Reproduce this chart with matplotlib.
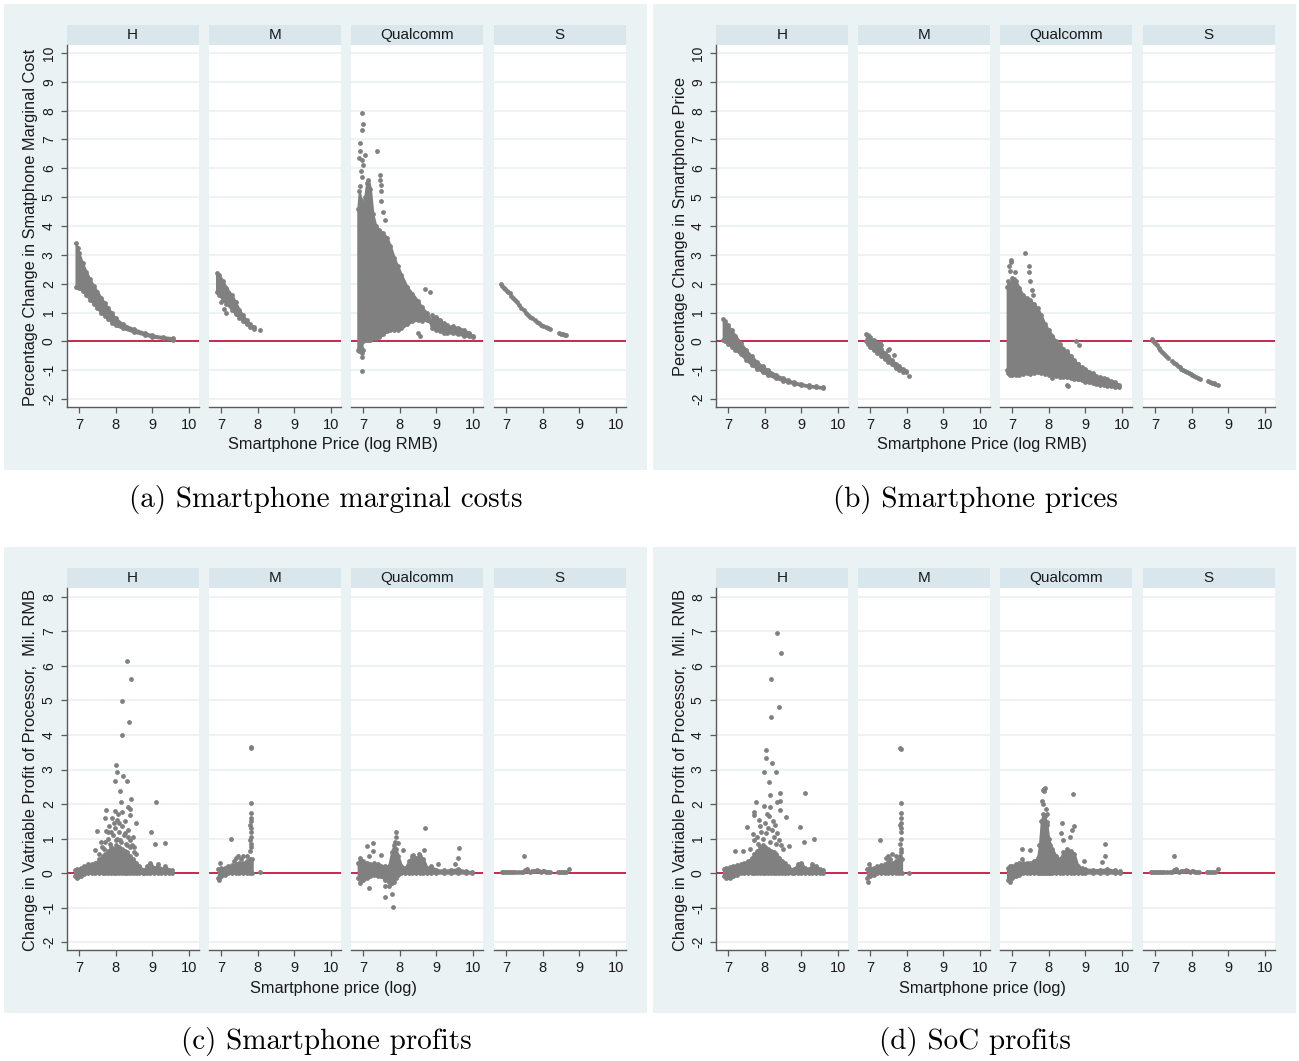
import matplotlib
matplotlib.use("Agg")
import matplotlib.pyplot as plt
from matplotlib.patches import Rectangle

# ======================= DATA =======================
facet_names = ["H", "M", "Qualcomm", "S"]
x_ticks = [7, 8, 9, 10]
x_tick_labels = ["7", "8", "9", "10"]
y_ticks_ab = [-2, -1, 0, 1, 2, 3, 4, 5, 6, 7, 8, 9, 10]
y_tick_labels_ab = ["-2", "-1", "0", "1", "2", "3", "4", "5", "6", "7", "8", "9", "10"]
y_ticks_cd = [-2, -1, 0, 1, 2, 3, 4, 5, 6, 7, 8]
y_tick_labels_cd = ["-2", "-1", "0", "1", "2", "3", "4", "5", "6", "7", "8"]

captions = ["(a) Smartphone marginal costs", "(b) Smartphone prices",
            "(c) Smartphone profits", "(d) SoC profits"]
y_titles = ["Percentage Change in Smatphone Marginal Cost",
            "Percentage Change in Smartphone Price",
            "Change in Vatriable Profit of Processor,  Mil. RMB",
            "Change in Vatriable Profit of Processor,  Mil. RMB"]
x_titles = ["Smartphone Price (log RMB)", "Smartphone Price (log RMB)",
            "Smartphone price (log)", "Smartphone price (log)"]

# ---- panel (a): % change in marginal cost ----
a_H_band_x = [6.92, 6.96, 7.0, 7.1, 7.2, 7.3, 7.4, 7.5, 7.6, 7.7, 7.8, 7.9, 8.0, 8.2, 8.5, 8.8, 9.0, 9.3, 9.56]
a_H_band_hi = [3.4, 3.25, 3.05, 2.7, 2.4, 2.15, 1.93, 1.72, 1.52, 1.33, 1.15, 0.97, 0.8, 0.6, 0.43, 0.3, 0.22, 0.16, 0.12]
a_H_band_lo = [1.9, 1.88, 1.85, 1.75, 1.6, 1.45, 1.3, 1.15, 1.0, 0.88, 0.77, 0.65, 0.55, 0.45, 0.32, 0.22, 0.15, 0.1, 0.06]

a_M_band_x = [6.88, 6.95, 7.05, 7.15, 7.3, 7.4, 7.5, 7.6, 7.7, 7.8, 7.9]
a_M_band_hi = [2.36, 2.3, 2.1, 1.85, 1.6, 1.35, 1.1, 0.9, 0.73, 0.6, 0.5]
a_M_band_lo = [1.7, 1.6, 1.45, 1.3, 1.1, 0.95, 0.82, 0.7, 0.6, 0.5, 0.43]
a_M_pts_x = [8.06, 7.0, 7.07, 7.14]
a_M_pts_y = [0.38, 1.36, 1.13, 0.98]

a_Q_band_x = [6.86, 6.9, 6.95, 7.0, 7.05, 7.1, 7.15, 7.2, 7.27, 7.35, 7.45, 7.55, 7.65, 7.75, 7.85, 7.95, 8.05, 8.2, 8.35, 8.5, 8.6, 8.75, 8.88]
a_Q_band_hi = [4.6, 5.2, 4.9, 4.7, 5.0, 5.5, 5.6, 5.3, 4.4, 4.0, 3.85, 3.75, 3.6, 3.3, 2.9, 2.6, 2.3, 1.9, 1.65, 1.4, 1.2, 0.98, 0.65]
a_Q_band_lo = [-0.3, -0.35, -0.2, 0.0, 0.05, 0.05, 0.05, 0.05, 0.1, 0.1, 0.15, 0.25, 0.35, 0.4, 0.4, 0.38, 0.45, 0.6, 0.7, 0.75, 0.72, 0.75, 0.55]
a_Q_tail_x = [8.88, 9.0, 9.1, 9.2, 9.3, 9.45, 9.6, 9.75, 9.9, 10.0]
a_Q_tail_hi = [0.9, 0.85, 0.75, 0.62, 0.55, 0.52, 0.48, 0.4, 0.3, 0.18]
a_Q_tail_lo = [0.45, 0.4, 0.35, 0.3, 0.3, 0.28, 0.25, 0.2, 0.17, 0.14]
a_Q_pts_x = [6.96, 7.01, 6.97, 6.91, 6.93, 6.97, 7.0, 6.95, 6.98, 7.37, 7.46, 7.46, 7.48, 7.5, 7.5, 7.55, 7.6,
             8.7, 8.83, 8.56, 8.5, 6.96, 6.96, 6.98, 7.01, 6.9, 7.05, 6.93]
a_Q_pts_y = [7.92, 7.53, 7.32, 6.88, 6.6, 6.3, 6.1, 5.9, 5.7, 6.6, 5.76, 5.6, 5.41, 5.2, 4.87, 4.49, 4.2,
             1.8, 1.7, 0.17, 0.3, -1.03, -0.54, -0.4, -0.3, 6.35, 6.45, 5.4]

a_S_pts_x = [6.86, 6.9, 6.94, 6.98, 7.02, 7.06, 7.1, 7.15, 7.2, 7.25, 7.3, 7.36, 7.42, 7.48, 7.54, 7.6, 7.66,
             7.72, 7.78, 7.84, 7.9, 7.96, 8.02, 8.08, 8.14, 8.2, 8.45, 8.5, 8.55, 8.6, 8.65]
a_S_pts_y = [2.0, 1.93, 1.86, 1.8, 1.75, 1.7, 1.66, 1.57, 1.5, 1.42, 1.35, 1.25, 1.16, 1.08, 1.0, 0.93, 0.86,
             0.8, 0.73, 0.67, 0.62, 0.57, 0.54, 0.5, 0.47, 0.44, 0.29, 0.27, 0.25, 0.22, 0.21]

# ---- panel (b): % change in price ----
b_H_band_x = [6.87, 6.92, 7.0, 7.1, 7.2, 7.35, 7.5, 7.65, 7.8, 7.95, 8.1, 8.3, 8.5, 8.65, 8.8, 9.0, 9.2, 9.4, 9.6]
b_H_band_hi = [0.78, 0.7, 0.55, 0.38, 0.2, -0.05, -0.31, -0.52, -0.72, -0.87, -1.0, -1.15, -1.27, -1.34, -1.41, -1.47, -1.52, -1.55, -1.58]
b_H_band_lo = [0.05, 0.0, -0.08, -0.18, -0.3, -0.45, -0.65, -0.82, -0.95, -1.07, -1.17, -1.28, -1.36, -1.42, -1.47, -1.53, -1.57, -1.6, -1.63]

b_M_band_x = [6.9, 6.95, 7.0, 7.1, 7.2, 7.3, 7.4, 7.5, 7.6, 7.7, 7.8, 7.9, 7.98]
b_M_band_hi = [0.25, 0.22, 0.15, 0.05, -0.1, -0.25, -0.4, -0.52, -0.64, -0.77, -0.86, -0.96, -1.02]
b_M_band_lo = [0.0, -0.1, -0.2, -0.3, -0.4, -0.5, -0.6, -0.7, -0.8, -0.92, -0.98, -1.05, -1.08]
b_M_pts_x = [8.07, 7.5, 7.52, 7.66, 7.27, 7.0, 7.3, 7.22]
b_M_pts_y = [-1.19, -0.31, -0.26, -0.49, -0.07, -0.17, -0.12, -0.05]

b_Q_band_x = [6.87, 6.9, 6.95, 7.0, 7.05, 7.1, 7.2, 7.3, 7.4, 7.5, 7.6, 7.7, 7.8, 7.9, 8.0, 8.1, 8.2, 8.3, 8.4, 8.5, 8.6, 8.7, 8.8]
b_Q_band_hi = [1.9, 2.1, 2.0, 2.2, 2.15, 2.1, 1.85, 1.6, 1.5, 1.42, 1.3, 1.15, 0.9, 0.6, 0.4, 0.2, 0.0, -0.1, -0.25, -0.35, -0.5, -0.65, -0.8]
b_Q_band_lo = [-1.0, -1.1, -1.15, -1.15, -1.12, -1.15, -1.15, -1.12, -1.1, -1.12, -1.1, -1.08, -1.1, -1.12, -1.15, -1.18, -1.2, -1.22, -1.25, -1.25, -1.28, -1.3, -1.32]
b_Q_tail_x = [8.8, 8.9, 9.0, 9.1, 9.2, 9.3, 9.4, 9.5, 9.6, 9.7, 9.8, 9.92]
b_Q_tail_hi = [-0.8, -0.9, -0.95, -1.05, -1.1, -1.2, -1.25, -1.28, -1.32, -1.36, -1.4, -1.5]
b_Q_tail_lo = [-1.3, -1.35, -1.4, -1.42, -1.45, -1.48, -1.5, -1.52, -1.54, -1.56, -1.58, -1.6]
b_Q_pts_x = [7.35, 6.96, 6.98, 7.46, 7.46, 7.5, 7.55, 7.58, 8.74, 8.83, 8.5, 8.53, 8.09, 6.92, 6.94, 7.08]
b_Q_pts_y = [3.06, 2.83, 2.76, 2.63, 2.4, 2.1, 1.77, 1.6, 0.0, -0.14, -1.5, -1.55, -1.27, 2.6, 2.45, 2.4]

b_S_pts_x = [6.91, 6.95, 7.0, 7.05, 7.1, 7.15, 7.2, 7.25, 7.3, 7.35, 7.47, 7.52, 7.57, 7.62, 7.67, 7.72, 7.77,
             7.82, 7.87, 7.92, 7.97, 8.02, 8.07, 8.12, 8.17, 8.22, 8.45, 8.5, 8.55, 8.6, 8.65, 8.72]
b_S_pts_y = [0.09, 0.02, -0.06, -0.14, -0.22, -0.3, -0.37, -0.44, -0.51, -0.57, -0.69, -0.74, -0.8, -0.85, -0.9,
             -0.95, -1.0, -1.03, -1.07, -1.1, -1.13, -1.16, -1.2, -1.23, -1.26, -1.3, -1.39, -1.41, -1.43, -1.45, -1.47, -1.5]

# ---- panel (c): change in smartphone variable profit ----
c_H_band_x = [6.88, 6.95, 7.05, 7.15, 7.25, 7.35, 7.45, 7.55, 7.65, 7.72, 7.8, 7.88, 7.95, 8.02, 8.1, 8.18, 8.25, 8.32, 8.4, 8.48, 8.56, 8.65, 8.75]
c_H_band_hi = [0.1, 0.12, 0.15, 0.2, 0.25, 0.25, 0.3, 0.4, 0.5, 0.55, 0.65, 0.75, 0.7, 0.8, 0.75, 0.7, 0.65, 0.6, 0.5, 0.4, 0.3, 0.2, 0.1]
c_H_band_lo = [-0.1, -0.15, -0.1, -0.03, 0.0, 0.0, 0.0, 0.0, 0.0, 0.0, 0.0, 0.0, 0.0, 0.0, 0.0, 0.0, 0.0, 0.0, 0.0, 0.0, 0.0, 0.0, 0.0]
c_H_tail_x = [8.78, 8.85, 8.95, 9.05, 9.15, 9.25, 9.35, 9.45, 9.55]
c_H_tail_hi = [0.08, 0.2, 0.3, 0.15, 0.25, 0.12, 0.2, 0.1, 0.08]
c_H_tail_lo = [0.0, 0.0, 0.0, 0.0, 0.0, 0.0, 0.0, 0.0, 0.0]
c_H_pts_x = [8.32, 8.43, 8.16, 8.37, 8.17, 8.02, 8.04, 8.2, 7.99, 8.31, 8.12, 8.42, 8.14, 9.1, 8.34, 8.38, 7.75, 7.98,
             8.16, 8.4, 7.71, 8.55, 7.49, 7.73, 7.88, 8.96, 9.06, 9.35, 8.51, 8.5, 7.45, 7.9, 8.05, 8.25, 7.6,
             7.62, 7.7, 7.78, 7.85, 7.92, 7.97, 8.03, 8.08, 8.12, 8.18, 8.22, 8.28, 8.33, 8.38, 8.45, 8.48, 7.82,
             8.0, 8.15, 8.3, 8.4, 8.55, 7.55, 7.68, 7.95, 8.1, 8.26, 8.35, 7.8, 8.07]
c_H_pts_y = [6.14, 5.62, 4.98, 4.39, 3.99, 3.14, 2.93, 2.81, 2.66, 2.66, 2.39, 2.14, 2.06, 2.06, 1.92, 1.87, 1.83, 1.8,
             1.76, 1.69, 1.6, 1.44, 1.22, 1.22, 1.19, 1.18, 0.83, 0.87, 0.75, 0.6, 0.66, 1.6, 1.55, 1.5, 0.9,
             0.75, 0.9, 1.0, 0.85, 1.1, 1.3, 1.0, 1.2, 0.95, 1.35, 1.1, 0.85, 1.25, 0.95, 0.8, 1.05, 1.35,
             0.95, 0.9, 0.8, 0.75, 0.55, 0.55, 0.7, 1.45, 1.45, 1.15, 1.05, 1.2, 1.7]

c_M_band_x = [6.93, 7.0, 7.1, 7.2, 7.3, 7.4, 7.5, 7.6, 7.7, 7.78, 7.85]
c_M_band_hi = [0.12, 0.15, 0.15, 0.2, 0.22, 0.25, 0.3, 0.28, 0.35, 0.4, 0.4]
c_M_band_lo = [-0.15, -0.1, -0.05, 0.0, 0.0, 0.0, 0.0, 0.0, 0.0, 0.0, 0.0]
c_M_pts_x = [7.81, 7.82, 7.81, 7.82, 7.8, 7.81, 7.82, 7.81, 7.8, 7.82, 7.81, 7.8,
             7.81, 7.83, 7.26, 8.07, 6.95, 6.97, 6.96, 7.47, 7.4, 7.6, 7.55, 7.7, 7.35]
c_M_pts_y = [2.03, 1.75, 1.6, 1.5, 1.4, 1.3, 1.2, 1.05, 0.95, 0.85, 0.75, 0.65,
             3.64, 3.62, 0.98, 0.03, -0.2, -0.12, 0.3, 0.5, 0.45, 0.5, 0.4, 0.5, 0.35]

c_Q_band_x = [6.87, 6.92, 7.0, 7.1, 7.2, 7.3, 7.4, 7.5, 7.6, 7.7, 7.78, 7.84, 7.9, 7.96, 8.05, 8.15, 8.25, 8.35, 8.45,
              8.55, 8.65, 8.75, 8.85, 9.0, 9.2, 9.4, 9.6, 9.8, 9.97]
c_Q_band_hi = [0.3, 0.45, 0.35, 0.3, 0.25, 0.3, 0.25, 0.2, 0.2, 0.2, 0.6, 0.8, 0.7, 0.5, 0.2, 0.15, 0.35, 0.5, 0.45,
               0.5, 0.4, 0.15, 0.2, 0.1, 0.08, 0.1, 0.12, 0.06, 0.04]
c_Q_band_lo = [-0.15, -0.3, -0.2, -0.15, -0.1, -0.05, -0.1, -0.1, -0.2, -0.25, -0.3, -0.25, -0.15, -0.05, 0.0, 0.0, 0.0,
               0.0, 0.0, 0.0, 0.0, 0.0, 0.0, 0.0, 0.0, 0.0, 0.0, 0.0, 0.0]
c_Q_pts_x = [7.9, 7.89, 7.86, 7.95, 8.69, 7.27, 7.11, 7.26, 7.16, 7.48, 8.1, 8.36, 8.54, 8.67, 9.61, 9.6, 9.5, 9.05,
             7.17, 7.6, 7.72, 7.59, 7.8, 7.81, 7.83]
c_Q_pts_y = [1.2, 1.05, 0.9, 0.87, 1.3, 0.88, 0.79, 0.65, 0.48, 0.52, 0.67, 0.52, 0.55, 0.67, 0.72, 0.45, 0.27, 0.27,
             -0.42, -0.38, -0.38, -0.69, -0.61, -0.98, -0.2]

c_S_pts_x = [6.88, 6.93, 6.98, 7.03, 7.08, 7.13, 7.18, 7.25, 7.32, 7.4, 7.47, 7.52, 7.56, 7.6, 7.65, 7.7, 7.75, 7.8,
             7.85, 7.9, 7.95, 8.0, 8.05, 8.1, 8.15, 8.2, 8.43, 8.48, 8.53, 8.58, 8.64, 8.72, 7.5]
c_S_pts_y = [0.02, 0.03, 0.02, 0.03, 0.02, 0.02, 0.03, 0.02, 0.02, 0.03, 0.04, 0.08, 0.12, 0.06, 0.04, 0.05, 0.07, 0.06,
             0.08, 0.05, 0.04, 0.05, 0.06, 0.04, 0.03, 0.03, 0.02, 0.03, 0.02, 0.02, 0.03, 0.11, 0.5]

# ---- panel (d): change in SoC variable profit ----
d_H_band_x = [6.88, 6.95, 7.05, 7.15, 7.25, 7.35, 7.45, 7.55, 7.65, 7.72, 7.8, 7.88, 7.95, 8.02, 8.1, 8.18, 8.25, 8.32, 8.4, 8.48, 8.56, 8.65, 8.75]
d_H_band_hi = [0.12, 0.15, 0.18, 0.2, 0.22, 0.25, 0.3, 0.35, 0.45, 0.55, 0.65, 0.75, 0.8, 0.75, 0.7, 0.65, 0.6, 0.55, 0.45, 0.35, 0.28, 0.2, 0.1]
d_H_band_lo = [-0.1, -0.15, -0.15, -0.1, -0.05, 0.0, 0.0, 0.0, 0.0, 0.0, 0.0, 0.0, 0.0, 0.0, 0.0, 0.0, 0.0, 0.0, 0.0, 0.0, 0.0, 0.0, 0.0]
d_H_tail_x = [8.8, 8.9, 9.0, 9.1, 9.2, 9.3, 9.4, 9.5, 9.6]
d_H_tail_hi = [0.12, 0.25, 0.3, 0.15, 0.12, 0.25, 0.2, 0.12, 0.08]
d_H_tail_lo = [0.0, 0.0, 0.0, 0.0, 0.0, 0.0, 0.0, 0.0, 0.0]
d_H_pts_x = [8.33, 8.44, 8.17, 8.38, 8.18, 8.03, 8.04, 8.21, 7.99, 8.32, 8.13, 9.11, 8.43, 8.14, 7.76, 8.34, 8.43, 7.97,
             8.15, 8.42, 7.71, 7.71, 8.06, 8.57, 7.51, 8.97, 7.88, 8.24, 9.07, 9.35, 8.67, 7.69, 7.19, 7.42,
             7.7, 7.78, 7.82, 7.9, 7.95, 8.0, 8.05, 8.1, 8.15, 8.2, 8.25, 8.3, 8.35, 8.4, 8.45, 8.5, 7.6, 7.85, 8.12, 8.27]
d_H_pts_y = [6.95, 6.37, 5.62, 4.82, 4.52, 3.57, 3.33, 3.2, 2.92, 2.92, 2.63, 2.33, 2.33, 2.27, 2.07, 2.07, 2.1, 1.95,
             1.92, 1.84, 1.78, 1.68, 1.71, 1.61, 1.32, 1.32, 1.36, 1.5, 0.91, 0.98, 0.77, 1.12, 0.65, 0.65,
             0.95, 1.05, 0.85, 1.2, 1.0, 1.45, 1.15, 1.3, 0.9, 1.25, 1.05, 0.85, 1.15, 0.95, 0.8, 0.7, 0.7, 1.55, 1.65, 1.4]

d_M_band_x = [6.93, 7.0, 7.1, 7.2, 7.3, 7.4, 7.5, 7.6, 7.7, 7.78, 7.86]
d_M_band_hi = [0.12, 0.15, 0.15, 0.2, 0.22, 0.25, 0.32, 0.3, 0.35, 0.4, 0.4]
d_M_band_lo = [-0.15, -0.1, -0.05, 0.0, 0.0, 0.0, 0.0, 0.0, 0.0, 0.0, 0.0]
d_M_pts_x = [7.84, 7.85, 7.84, 7.85, 7.83, 7.84, 7.85, 7.84, 7.83, 7.85, 7.84, 7.83,
             7.83, 7.85, 7.27, 8.06, 6.95, 6.96, 7.5, 7.6, 7.45, 7.55, 7.7]
d_M_pts_y = [2.02, 1.75, 1.6, 1.45, 1.4, 1.3, 1.2, 1.0, 0.85, 0.7, 0.6, 0.5,
             3.63, 3.6, 0.96, 0.0, -0.25, 0.27, 0.5, 0.55, 0.45, 0.4, 0.5]

d_Q_band_x = [6.88, 6.95, 7.0, 7.1, 7.2, 7.3, 7.4, 7.5, 7.6, 7.7, 7.75, 7.8, 7.85, 7.9, 7.95, 8.0, 8.05, 8.1, 8.2, 8.3,
              8.4, 8.5, 8.6, 8.7, 8.8, 8.9, 9.0, 9.2, 9.4, 9.6, 9.8, 9.95]
d_Q_band_hi = [0.15, 0.2, 0.2, 0.25, 0.3, 0.3, 0.3, 0.3, 0.35, 0.45, 0.8, 1.5, 1.7, 1.65, 1.4, 1.0, 0.8, 0.7, 0.5, 0.4,
               0.6, 0.7, 0.65, 0.55, 0.2, 0.15, 0.12, 0.1, 0.1, 0.12, 0.08, 0.05]
d_Q_band_lo = [-0.2, -0.25, -0.15, -0.1, -0.05, 0.0, 0.0, 0.0, 0.0, 0.0, 0.0, 0.0, 0.0, 0.0, 0.0, 0.0, 0.0, 0.0, 0.0,
               0.0, 0.0, 0.0, 0.0, 0.0, 0.0, 0.0, 0.0, 0.0, 0.0, 0.0, 0.0, 0.0]
d_Q_pts_x = [7.88, 7.85, 7.86, 7.9, 8.67, 7.82, 7.84, 7.93, 7.95, 7.96, 8.37, 8.64, 8.7, 8.33, 8.4, 8.58, 9.55, 9.53,
             9.45, 7.27, 7.5, 7.28, 8.97]
d_Q_pts_y = [2.43, 2.4, 2.38, 2.45, 2.28, 2.09, 1.99, 1.85, 1.7, 1.47, 1.44, 1.25, 1.35, 1.15, 0.95, 1.05, 0.84, 0.5,
             0.31, 0.69, 0.67, 0.42, 0.36]

d_S_pts_x = [6.88, 6.93, 6.98, 7.03, 7.08, 7.13, 7.18, 7.25, 7.32, 7.4, 7.47, 7.52, 7.56, 7.6, 7.65, 7.7, 7.75, 7.8,
             7.85, 7.9, 7.95, 8.0, 8.05, 8.1, 8.15, 8.2, 8.43, 8.48, 8.53, 8.58, 8.64, 8.72, 7.52]
d_S_pts_y = [0.02, 0.03, 0.02, 0.03, 0.02, 0.02, 0.03, 0.02, 0.02, 0.03, 0.04, 0.08, 0.12, 0.06, 0.04, 0.05, 0.07, 0.06,
             0.08, 0.05, 0.04, 0.05, 0.06, 0.04, 0.03, 0.03, 0.02, 0.03, 0.02, 0.02, 0.03, 0.11, 0.5]

# ======================= STYLE / LAYOUT =======================
W, H = 1299, 1061
BG = "#EAF2F3"
HEAD = "#D9E6EB"
GRID = "#EAF2F3"
GRAY = "#808080"
RED = "#C8173F"
AXC = "#5a5a5a"
TXT = "#1a1a1a"
SANS = ["Liberation Sans", "DejaVu Sans"]

panels = {
    "a": dict(off=(0, 0), ylim=(-2.277, 10.277), yt=y_ticks_ab, ytl=y_tick_labels_ab,
              facets=[
                  dict(bands=[(a_H_band_x, a_H_band_lo, a_H_band_hi)], pts=None),
                  dict(bands=[(a_M_band_x, a_M_band_lo, a_M_band_hi)], pts=(a_M_pts_x, a_M_pts_y)),
                  dict(bands=[(a_Q_band_x, a_Q_band_lo, a_Q_band_hi), (a_Q_tail_x, a_Q_tail_lo, a_Q_tail_hi)],
                       pts=(a_Q_pts_x, a_Q_pts_y)),
                  dict(bands=[], pts=(a_S_pts_x, a_S_pts_y))]),
    "b": dict(off=(649, 0), ylim=(-2.277, 10.277), yt=y_ticks_ab, ytl=y_tick_labels_ab,
              facets=[
                  dict(bands=[(b_H_band_x, b_H_band_lo, b_H_band_hi)], pts=None),
                  dict(bands=[(b_M_band_x, b_M_band_lo, b_M_band_hi)], pts=(b_M_pts_x, b_M_pts_y)),
                  dict(bands=[(b_Q_band_x, b_Q_band_lo, b_Q_band_hi), (b_Q_tail_x, b_Q_tail_lo, b_Q_tail_hi)],
                       pts=(b_Q_pts_x, b_Q_pts_y)),
                  dict(bands=[], pts=(b_S_pts_x, b_S_pts_y))]),
    "c": dict(off=(0, 543), ylim=(-2.23, 8.26), yt=y_ticks_cd, ytl=y_tick_labels_cd,
              facets=[
                  dict(bands=[(c_H_band_x, c_H_band_lo, c_H_band_hi), (c_H_tail_x, c_H_tail_lo, c_H_tail_hi)],
                       pts=(c_H_pts_x, c_H_pts_y)),
                  dict(bands=[(c_M_band_x, c_M_band_lo, c_M_band_hi)], pts=(c_M_pts_x, c_M_pts_y)),
                  dict(bands=[(c_Q_band_x, c_Q_band_lo, c_Q_band_hi)], pts=(c_Q_pts_x, c_Q_pts_y)),
                  dict(bands=[], pts=(c_S_pts_x, c_S_pts_y))]),
    "d": dict(off=(649, 543), ylim=(-2.23, 8.26), yt=y_ticks_cd, ytl=y_tick_labels_cd,
              facets=[
                  dict(bands=[(d_H_band_x, d_H_band_lo, d_H_band_hi), (d_H_tail_x, d_H_tail_lo, d_H_tail_hi)],
                       pts=(d_H_pts_x, d_H_pts_y)),
                  dict(bands=[(d_M_band_x, d_M_band_lo, d_M_band_hi)], pts=(d_M_pts_x, d_M_pts_y)),
                  dict(bands=[(d_Q_band_x, d_Q_band_lo, d_Q_band_hi)], pts=(d_Q_pts_x, d_Q_pts_y)),
                  dict(bands=[], pts=(d_S_pts_x, d_S_pts_y))]),
}

FACET_L = [67, 209, 351, 494]
FACET_W = 131.5
HEAD_T, HEAD_H = 25, 20
PLOT_T, PLOT_H = 45, 362
XLIM = (6.673, 10.26)


def rect(l, t, w, h):
    return [l / W, 1 - (t + h) / H, w / W, h / H]


fig = plt.figure(figsize=(W / 100, H / 100), dpi=100)
fig.patch.set_facecolor("white")

MS = 12

for k, key in enumerate(["a", "b", "c", "d"]):
    P = panels[key]
    ox, oy = P["off"]
    # panel background
    fig.patches.append(Rectangle(((ox + 4) / W, 1 - (oy + 470) / H), 643 / W, 466 / H,
                                 transform=fig.transFigure, facecolor=BG, edgecolor="none", zorder=-5))
    for j, name in enumerate(facet_names):
        l = ox + FACET_L[j]
        hax = fig.add_axes(rect(l, oy + HEAD_T, FACET_W, HEAD_H))
        hax.set_zorder(2)
        hax.set_facecolor(HEAD)
        hax.set_xticks([]); hax.set_yticks([])
        for s in hax.spines.values():
            s.set_visible(False)
        hax.text(0.5, 0.5, name, ha="center", va="center", fontsize=11, family=SANS, color=TXT,
                 transform=hax.transAxes)

        ax = fig.add_axes(rect(l, oy + PLOT_T, FACET_W, PLOT_H))
        ax.set_zorder(2)
        ax.set_facecolor("white")
        ax.set_xlim(*XLIM)
        ax.set_ylim(*P["ylim"])
        for yv in P["yt"]:
            ax.axhline(yv, color=GRID, lw=1.3, zorder=0)
        ax.axhline(0, color=RED, lw=1.3, zorder=1)
        F = P["facets"][j]
        for (bx, blo, bhi) in F["bands"]:
            ax.fill_between(bx, blo, bhi, color=GRAY, lw=1.6, edgecolor=GRAY, zorder=3)
            ax.scatter(bx, blo, s=MS, color=GRAY, lw=0, zorder=3)
            ax.scatter(bx, bhi, s=MS, color=GRAY, lw=0, zorder=3)
        if F["pts"] is not None:
            ax.scatter(F["pts"][0], F["pts"][1], s=MS, color=GRAY, lw=0, zorder=4)

        for side in ["top", "right"]:
            ax.spines[side].set_visible(False)
        ax.spines["bottom"].set_color(AXC)
        ax.spines["bottom"].set_linewidth(1.0)
        ax.spines["left"].set_color(AXC)
        ax.spines["left"].set_linewidth(1.0)
        ax.set_xticks(x_ticks)
        ax.set_xticklabels(x_tick_labels, fontsize=10.5, family=SANS, color=TXT)
        ax.tick_params(axis="x", direction="out", length=4, width=0.9, color=AXC, pad=4)
        if j == 0:
            ax.set_yticks(P["yt"])
            ax.set_yticklabels(P["ytl"], fontsize=10, family=SANS, color=TXT, rotation=90, va="center")
            ax.tick_params(axis="y", direction="out", length=4, width=0.9, color=AXC, pad=4)
        else:
            ax.spines["left"].set_visible(False)
            ax.set_yticks([])

    # axis titles
    fig.text((ox + 31) / W, 1 - (oy + 227) / H, y_titles[k], rotation=90, ha="center", va="center",
             fontsize=11.8, family=SANS, color=TXT)
    fig.text((ox + 333) / W, 1 - (oy + 445) / H, x_titles[k], ha="center", va="center",
             fontsize=11.8, family=SANS, color=TXT)
    # caption
    fig.text((ox + 326) / W, 1 - (oy + 499) / H, captions[k], ha="center", va="center",
             fontsize=21, family="cmr10", color="black")

fig.savefig("out.png", dpi=100, facecolor="white")
